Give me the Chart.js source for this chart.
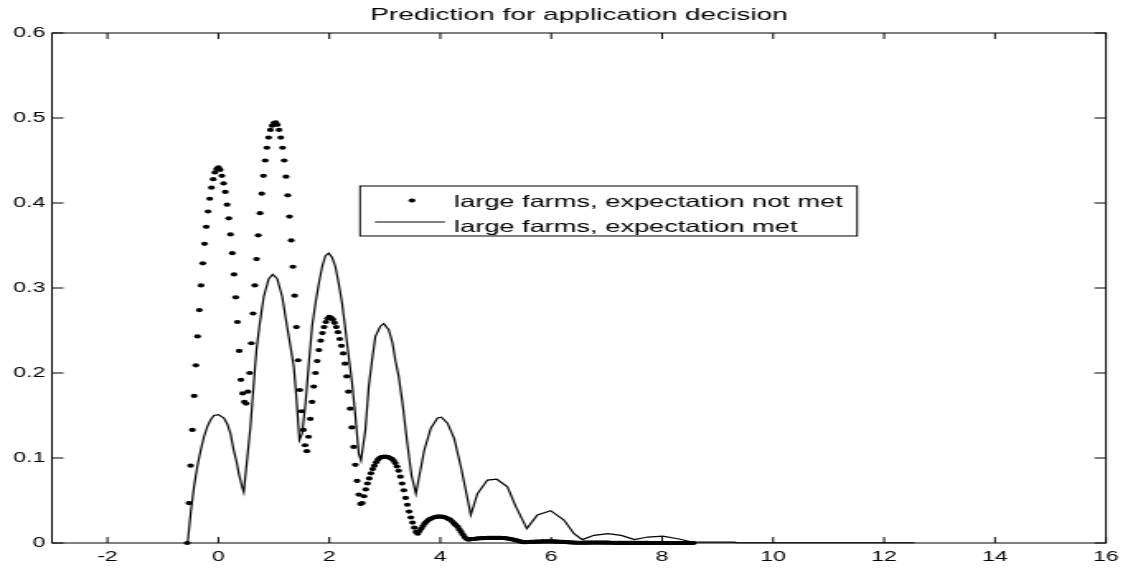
<!DOCTYPE html>
<html>
<head>
<meta charset="utf-8">
<title>Prediction for application decision</title>
<script src="https://cdn.jsdelivr.net/npm/chart.js@4.4.1/dist/chart.umd.min.js"></script>
<style>
  html, body { margin: 0; padding: 0; background: #fff; overflow: hidden; }
</style>
</head>
<body>
<!-- the original figure is stretched sideways, so the canvas is drawn narrow and widened by css -->
<canvas id="chart" width="687" height="569" style="display:block;width:1133px;height:569px"></canvas>
<script>
var chartTitle = 'Prediction for application decision';
var seriesNames = ['large farms, expectation not met', 'large farms, expectation met'];
var xTicks = [-2, 0, 2, 4, 6, 8, 10, 12, 14, 16];
var yTicks = [0, 0.1, 0.2, 0.3, 0.4, 0.5, 0.6];

// dotted series, sampled every 1/32 starting at x = -0.5625
var dotX0 = -0.5625;
var dotDx = 1 / 32;
var dotY = [
	// bump around 0
	0, 0.047, 0.091, 0.133, 0.173, 0.209, 0.243, 0.274, 0.303, 0.329, 0.352, 0.372, 0.390, 0.405, 0.418, 0.428, 0.436, 0.440, 0.442,
	0.439, 0.432, 0.423, 0.413, 0.398, 0.382, 0.363, 0.341, 0.316, 0.289, 0.260, 0.226, 0.192, 0.176, 0.166, 0.164,
	// bump around 1
	0.178, 0.200, 0.235, 0.270, 0.303, 0.334, 0.362, 0.388, 0.411, 0.432, 0.450, 0.465, 0.477, 0.486, 0.491, 0.494, 0.495,
	0.492, 0.486, 0.477, 0.465, 0.450, 0.431, 0.409, 0.384, 0.356, 0.325, 0.291, 0.254, 0.215, 0.180, 0.155, 0.133, 0.115, 0.108,
	// bump around 2
	0.125, 0.146, 0.166, 0.184, 0.200, 0.214, 0.227, 0.238, 0.247, 0.254, 0.260, 0.264, 0.266,
	0.265, 0.263, 0.259, 0.254, 0.248, 0.240, 0.232, 0.223, 0.211, 0.196, 0.178, 0.158, 0.136, 0.113, 0.092, 0.073, 0.057, 0.046,
	// bump around 3
	0.047, 0.055, 0.063, 0.070, 0.076, 0.082, 0.087, 0.091, 0.095, 0.098, 0.100, 0.101, 0.1015, 0.1017, 0.1015, 0.101, 0.100,
	0.099, 0.097, 0.094, 0.090, 0.085, 0.078, 0.070, 0.062, 0.053, 0.045, 0.037, 0.030, 0.024, 0.018, 0.013, 0.011,
	// bump around 4
	0.014, 0.017, 0.020, 0.023, 0.025, 0.027, 0.028, 0.029, 0.030, 0.0305, 0.031, 0.031, 0.031, 0.031, 0.0305,
	0.030, 0.029, 0.028, 0.027, 0.025, 0.023, 0.021, 0.019, 0.016, 0.013, 0.010, 0.007, 0.005, 0.004,
	// bump around 5
	0.0042, 0.0045, 0.0047, 0.005, 0.0052, 0.0054, 0.0056, 0.0057, 0.0058, 0.0059, 0.006, 0.006, 0.0061, 0.0061, 0.0061, 0.0061,
	0.0061, 0.006, 0.006, 0.0059, 0.0057, 0.0055, 0.0052, 0.0049, 0.0045, 0.004, 0.0035, 0.003, 0.0024, 0.0018, 0.0013, 0.001,
	// bump around 6
	0.001, 0.0011, 0.0012, 0.0013, 0.0014, 0.0015, 0.0016, 0.0016, 0.0017, 0.0017, 0.0018, 0.0018, 0.0018, 0.0018, 0.0018, 0.0018,
	0.0018, 0.0017, 0.0017, 0.0016, 0.0015, 0.0014, 0.0013, 0.0012, 0.001, 0.0009, 0.0007, 0.0006, 0.0005, 0.0004, 0.0003, 0.0003,
	// tail up to 8.56
	0.0003, 0.0003, 0.0004, 0.0004, 0.0004, 0.0004, 0.0005, 0.0005, 0.0005, 0.0005, 0.0005, 0.0005, 0.0005, 0.0005, 0.0004, 0.0004,
	0.0004, 0.0003, 0.0003, 0.0002, 0.0002, 0.0001, 0.0001, 0.0001, 0.0001, 0.0001, 0.0001, 0.0001, 0.0001, 0.0001, 0.0001, 0.0001,
	0.0001, 0.0001, 0.0001, 0.0001, 0.0001, 0.0001, 0.0001, 0.0001, 0, 0, 0, 0, 0, 0, 0, 0, 0, 0, 0, 0, 0, 0, 0, 0, 0, 0, 0, 0, 0, 0, 0, 0, 0, 0
];

// solid series
var lineX = [-0.554, -0.5, -0.44, -0.38, -0.32, -0.26, -0.2, -0.14, -0.08, 0.0,
	0.1, 0.16, 0.217, 0.277, 0.33, 0.367, 0.427, 0.457, 0.517, 0.578,
	0.638, 0.686, 0.745, 0.818, 0.908, 0.98, 1.06, 1.15, 1.24, 1.3,
	1.36, 1.40, 1.43, 1.46, 1.51, 1.57, 1.63, 1.69, 1.75, 1.81,
	1.87, 1.93, 1.99, 2.05, 2.11, 2.17, 2.23, 2.29, 2.35, 2.41,
	2.47, 2.53, 2.57, 2.65, 2.71, 2.77, 2.83, 2.92, 2.98, 3.07,
	3.14, 3.19, 3.25, 3.32, 3.4, 3.48, 3.56, 3.64, 3.71, 3.83,
	3.95, 4.02, 4.13, 4.25, 4.37, 4.46, 4.55, 4.67, 4.85, 5.02,
	5.21, 5.36, 5.56, 5.75, 5.99, 6.23, 6.41, 6.56, 6.77, 7.02,
	7.26, 7.5, 7.74, 8.01, 8.28, 8.52, 8.7, 9.3, 9.35, 12.55];
var lineY = [0, 0.035, 0.066, 0.09, 0.109, 0.125, 0.137, 0.145, 0.150, 0.151,
	0.147, 0.14, 0.129, 0.109, 0.095, 0.082, 0.066, 0.060, 0.098, 0.137,
	0.188, 0.227, 0.258, 0.29, 0.311, 0.316, 0.311, 0.29, 0.254, 0.231,
	0.207, 0.176, 0.149, 0.121, 0.129, 0.164, 0.211, 0.255, 0.282, 0.305,
	0.325, 0.338, 0.341, 0.336, 0.325, 0.305, 0.282, 0.251, 0.219, 0.188,
	0.149, 0.105, 0.097, 0.133, 0.184, 0.215, 0.243, 0.255, 0.258, 0.251,
	0.235, 0.215, 0.196, 0.164, 0.12, 0.08, 0.058, 0.085, 0.109, 0.135,
	0.147, 0.148, 0.141, 0.123, 0.09, 0.062, 0.033, 0.058, 0.074, 0.075,
	0.066, 0.043, 0.017, 0.033, 0.038, 0.027, 0.011, 0.004, 0.009, 0.011,
	0.009, 0.004, 0.007, 0.008, 0.005, 0.0015, 0.001, 0.001, 0.0003, 0.0003];

var FONT = "'Liberation Sans', Arial, Helvetica, sans-serif";

var dotPoints = dotY.map(function(y, i) { return {x: dotX0 + i * dotDx, y: y}; });
var linePoints = lineX.map(function(x, i) { return {x: x, y: lineY[i]}; });

// box round the axes, ticks pointing inwards on all four sides, and the legend box
var matlabFrame = {
	id: 'matlabFrame',
	afterDatasetsDraw: function(chart) {
		var ctx = chart.ctx, a = chart.chartArea, sx = chart.scales.x, sy = chart.scales.y;
		ctx.save();
		ctx.strokeStyle = '#000';
		ctx.lineWidth = 1;
		ctx.beginPath();
		xTicks.forEach(function(v) {
			var px = sx.getPixelForValue(v);
			ctx.moveTo(px, a.bottom); ctx.lineTo(px, a.bottom - 6);
			ctx.moveTo(px, a.top); ctx.lineTo(px, a.top + 6);
		});
		yTicks.forEach(function(v) {
			var py = sy.getPixelForValue(v);
			ctx.moveTo(a.left, py); ctx.lineTo(a.left + 7, py);
			ctx.moveTo(a.right, py); ctx.lineTo(a.right - 7, py);
		});
		ctx.stroke();
		ctx.strokeRect(a.left, a.top, a.right - a.left, a.bottom - a.top);
		ctx.restore();
	},
	afterDraw: function(chart) {
		var ctx = chart.ctx, a = chart.chartArea;
		var w = a.right - a.left, h = a.bottom - a.top;
		var bx = a.left + 0.2923 * w, by = a.top + 0.300 * h;
		var bw = 0.4716 * w, bh = 0.098 * h;
		ctx.save();
		ctx.fillStyle = '#fff';
		ctx.fillRect(bx, by, bw, bh);
		ctx.strokeStyle = '#000';
		ctx.lineWidth = 1;
		ctx.strokeRect(bx, by, bw, bh);
		// marker of the dotted series
		ctx.fillStyle = '#000';
		ctx.beginPath();
		ctx.arc(bx + 31.5, by + 14.5, 2.1, 0, Math.PI * 2);
		ctx.fill();
		// marker of the solid series
		ctx.beginPath();
		ctx.moveTo(bx + 9, by + 36);
		ctx.lineTo(bx + 51.5, by + 36);
		ctx.stroke();
		ctx.font = '16.5px ' + FONT;
		ctx.textBaseline = 'alphabetic';
		ctx.textAlign = 'left';
		ctx.fillText(seriesNames[0], bx + 57, by + 21.3);
		ctx.fillText(seriesNames[1], bx + 57, by + 45.7);
		ctx.restore();
	}
};

var ctx = document.getElementById('chart').getContext('2d');
var chart = new Chart(ctx, {
	type: 'scatter',
	data: {
		datasets: [
			{
				label: seriesNames[0],
				data: dotPoints,
				showLine: false,
				pointRadius: 2.1,
				pointBackgroundColor: '#000',
				pointBorderWidth: 0,
				clip: false,
				order: 0
			},
			{
				label: seriesNames[1],
				data: linePoints,
				showLine: true,
				borderColor: '#000',
				borderWidth: 1.2,
				pointRadius: 0,
				tension: 0,
				clip: false,
				order: 1
			}
		]
	},
	options: {
		responsive: false,
		animation: false,
		devicePixelRatio: 1,
		events: [],
		layout: { padding: { left: 0, right: 16.4, top: 0, bottom: 0 } },
		scales: {
			x: {
				type: 'linear',
				min: -3,
				max: 16,
				grid: { display: false, drawTicks: false, tickLength: 0 },
				border: { display: false },
				afterBuildTicks: function(s) { s.ticks = xTicks.map(function(v) { return {value: v}; }); },
				afterFit: function(s) { s.height = 26; },
				ticks: {
					padding: 5.6,
					color: '#000',
					autoSkip: false,
					maxRotation: 0,
					font: { family: FONT, size: 14 },
					callback: function(v) { return String(v); }
				}
			},
			y: {
				type: 'linear',
				min: 0,
				max: 0.6,
				grid: { display: false, drawTicks: false, tickLength: 0 },
				border: { display: false },
				afterBuildTicks: function(s) { s.ticks = yTicks.map(function(v) { return {value: v}; }); },
				afterFit: function(s) { s.width = 31.5; },
				ticks: {
					padding: 4,
					color: '#000',
					font: { family: FONT, size: 14 },
					callback: function(v) { return String(Math.round(v * 10) / 10); }
				}
			}
		},
		plugins: {
			legend: { display: false },
			tooltip: { enabled: false },
			title: {
				display: true,
				text: chartTitle,
				fullSize: false,
				color: '#000',
				font: { family: FONT, size: 17, weight: 'normal' },
				padding: { top: 5.5, bottom: 7.1 }
			}
		}
	},
	plugins: [matlabFrame]
});
</script>
</body>
</html>
